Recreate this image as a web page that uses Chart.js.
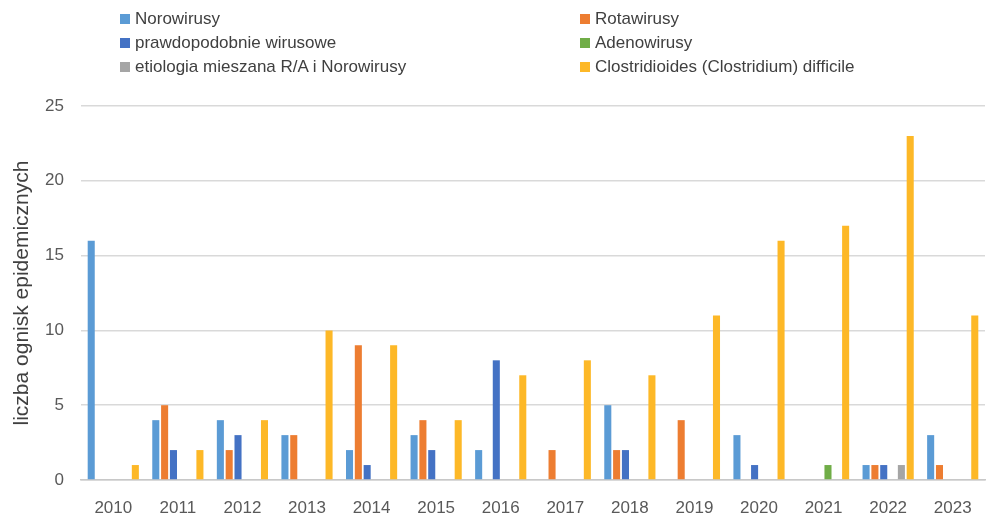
<!DOCTYPE html>
<html>
<head>
<meta charset="utf-8">
<script src="https://cdn.jsdelivr.net/npm/chart.js@4"></script>
<style>
  body { margin: 0; background: #fff; }
  #wrap { position: relative; width: 986px; height: 513px; }
  #legend { position: absolute; top: 9px; left: 0; width: 986px; font-family: "Liberation Sans", Arial, sans-serif; font-size: 17px; color: #404040; }
  .item { position: absolute; white-space: nowrap; }
  .box { display: inline-block; width: 10px; height: 10px; margin-right: 5px; vertical-align: 0px; }
</style>
</head>
<body>
<div id="wrap">
  <canvas id="barChart" width="986" height="513"></canvas>
  <div id="legend"></div>
</div>
<script>
const years = ["2010", "2011", "2012", "2013", "2014", "2015", "2016", "2017", "2018", "2019", "2020", "2021", "2022", "2023"];

const norowirusy = [16, 4, 4, 3, 2, 3, 2, 0, 5, 0, 3, 0, 1, 3];
const rotawirusy = [0, 5, 2, 3, 9, 4, 0, 2, 2, 4, 0, 0, 1, 1];
const wirusowe = [0, 2, 3, 0, 1, 2, 8, 0, 2, 0, 1, 0, 1, 0];
const adenowirusy = [0, 0, 0, 0, 0, 0, 0, 0, 0, 0, 0, 1, 0, 0];
const mieszana = [0, 0, 0, 0, 0, 0, 0, 0, 0, 0, 0, 0, 1, 0];
const clostridium = [1, 2, 4, 10, 9, 4, 7, 8, 7, 11, 16, 17, 23, 11];

const seriesNames = [
  "Norowirusy",
  "Rotawirusy",
  "prawdopodobnie wirusowe",
  "Adenowirusy",
  "etiologia mieszana R/A i Norowirusy",
  "Clostridioides (Clostridium) difficile",
];
const seriesData = [norowirusy, rotawirusy, wirusowe, adenowirusy, mieszana, clostridium];
const colors = ["#5B9BD5", "#ED7D31", "#4472C4", "#70AD47", "#A5A5A5", "#FDB827"];

// legend in two columns, drawn as html
const legendPos = [
  [120, 0], [580, 0],
  [120, 24], [580, 24],
  [120, 48], [580, 48],
];
const legend = document.getElementById("legend");
seriesNames.forEach((name, i) => {
  const el = document.createElement("div");
  el.className = "item";
  el.style.left = legendPos[i][0] + "px";
  el.style.top = legendPos[i][1] + "px";
  el.innerHTML = `<span class="box" style="background:${colors[i]}"></span>${name}`;
  legend.appendChild(el);
});

const ctx = document.getElementById("barChart").getContext("2d");
new Chart(ctx, {
  type: "bar",
  data: {
    labels: years,
    datasets: seriesNames.map((name, i) => ({
      label: name,
      data: seriesData[i],
      backgroundColor: colors[i],
      borderWidth: 0,
      categoryPercentage: 0.82,
      barPercentage: 0.8,
    })),
  },
  options: {
    responsive: false,
    animation: false,
    layout: { padding: { top: 106, right: 1, left: 0, bottom: 0 } },
    plugins: {
      legend: { display: false },
      tooltip: { enabled: false },
    },
    scales: {
      x: {
        grid: { display: false },
        border: { display: true, color: "#c8c8c8", width: 1.5 },
        ticks: {
          color: "#595959",
          font: { family: "Liberation Sans", size: 17 },
          padding: 10,
        },
        afterFit: (scale) => { scale.height = 33; },
      },
      y: {
        min: 0,
        max: 25,
        ticks: {
          stepSize: 5,
          color: "#595959",
          font: { family: "Liberation Sans", size: 17 },
          padding: 17,
        },
        grid: { color: "#d9d9d9", lineWidth: 1.5, drawTicks: false },
        border: { display: false },
        title: {
          display: true,
          text: "liczba ognisk epidemicznych",
          color: "#404040",
          font: { family: "Liberation Sans", size: 21 },
          padding: { top: 10, bottom: 0 },
        },
        afterFit: (scale) => { scale.width = 81; },
      },
    },
  },
});
</script>
</body>
</html>
